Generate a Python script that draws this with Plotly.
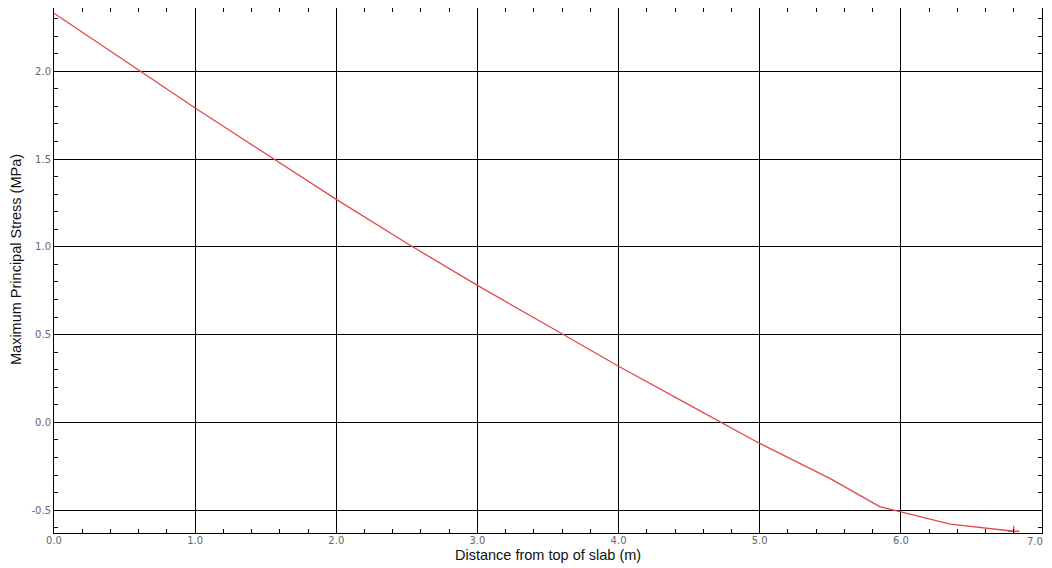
import plotly.graph_objects as go

distance = [0.0, 0.5, 1.0, 1.5, 2.0, 2.5, 3.0, 3.5, 4.0, 4.5, 5.0, 5.5, 5.85, 6.35, 6.8]
stress = [2.33, 2.06, 1.79, 1.53, 1.27, 1.02, 0.78, 0.55, 0.32, 0.10, -0.12, -0.32, -0.48, -0.58, -0.62]

x_ticks = [0, 1, 2, 3, 4, 5, 6, 7]
x_labels = ["0.0", "1.0", "2.0", "3.0", "4.0", "5.0", "6.0", "7.0"]
y_ticks = [-0.5, 0.0, 0.5, 1.0, 1.5, 2.0]
y_labels = ["-0.5", "0.0", "0.5", "1.0", "1.5", "2.0"]

line_color = "#e2474b"

fig = go.Figure()
fig.add_trace(go.Scatter(x=distance, y=stress, mode="lines",
                         line=dict(color=line_color, width=1.3), showlegend=False))
fig.add_trace(go.Scatter(x=distance[-1:], y=stress[-1:], mode="markers",
                         marker=dict(symbol="cross-thin", size=8,
                                     line=dict(color=line_color, width=1.3)),
                         showlegend=False))

tickfont = dict(family="DejaVu Sans", size=10, color="#666666")
titlefont = dict(family="Liberation Sans", size=14.5, color="#111111")

# last x label is drawn as an annotation so it is not clipped at the page edge
shown_x_labels = x_labels[:-1] + [""]

fig.update_xaxes(range=[0, 7], tickvals=x_ticks, ticktext=shown_x_labels,
                 showgrid=True, gridcolor="#000000", gridwidth=1,
                 ticks="inside", ticklen=6, tickcolor="#000000",
                 minor=dict(dtick=0.2, ticks="inside", ticklen=4, tickcolor="#000000", showgrid=False),
                 showline=True, linecolor="#000000", linewidth=1, mirror="ticks",
                 zeroline=False, tickfont=tickfont, automargin=False, ticklabelstandoff=-2)
fig.update_yaxes(range=[-0.63, 2.36], tickvals=y_ticks, ticktext=y_labels,
                 showgrid=True, gridcolor="#000000", gridwidth=1,
                 ticks="inside", ticklen=6, tickcolor="#000000",
                 minor=dict(dtick=0.1, tick0=0, ticks="inside", ticklen=4, tickcolor="#000000", showgrid=False),
                 showline=True, linecolor="#000000", linewidth=1, mirror="ticks",
                 zeroline=False, tickfont=tickfont, automargin=False)

fig.add_annotation(text=x_labels[-1], xref="x", yref="paper", x=x_ticks[-1], y=0,
                   xanchor="right", yanchor="top", xshift=3, yshift=-1,
                   showarrow=False, font=tickfont)
fig.add_annotation(text="Distance from top of slab (m)", xref="paper", yref="paper",
                   x=0.5, y=0, yshift=-22, yanchor="middle", xanchor="center",
                   showarrow=False, font=titlefont)
fig.add_annotation(text="Maximum Principal Stress (MPa)", xref="paper", yref="paper",
                   x=0, xshift=-38, y=0.52, xanchor="center", yanchor="middle", textangle=-90,
                   showarrow=False, font=titlefont)

fig.update_layout(width=1044, height=560, paper_bgcolor="white", plot_bgcolor="white",
                  margin=dict(l=46, r=10, t=0, b=35))

fig.write_html("out.html")
